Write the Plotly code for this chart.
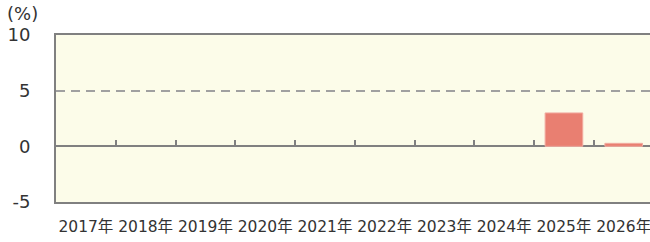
import plotly.graph_objects as go

years = ["2017年", "2018年", "2019年", "2020年", "2021年", "2022年", "2023年", "2024年", "2025年", "2026年"]
values = [None, None, None, None, None, None, None, None, 3.0, 0.27]
y_ticks = [-5, 0, 5, 10]
y_tick_labels = ["-5", "0", "5", "10"]
unit_label = "(%)"

FONT = "Verdana, DejaVu Sans, Noto Sans CJK JP, sans-serif"
GRAY = "#808080"
n = len(years)
xr = [-0.5, n - 0.5 - 0.06]

fig = go.Figure()
fig.add_trace(go.Bar(
    x=years, y=values,
    marker=dict(color="#E97F71", line=dict(color="#F2ABA0", width=1)),
    hoverinfo="skip", showlegend=False,
))
# invisible trace to activate the boundary-tick axis
fig.add_trace(go.Scatter(x=[0], y=[0], xaxis="x2", mode="markers",
                         opacity=0, hoverinfo="skip", showlegend=False))

fig.update_layout(
    width=650, height=242,
    margin=dict(l=56, r=0, t=35, b=40, autoexpand=False),
    paper_bgcolor="white", plot_bgcolor="#FCFCE9",
    font=dict(family=FONT, color="#333333"),
    bargap=0.37,
    xaxis=dict(
        type="category", range=xr, automargin=False,
        showline=True, linecolor=GRAY, linewidth=2, mirror=True,
        showgrid=False, zeroline=False,
        ticks="outside", ticklen=0, ticklabelstandoff=9,
        tickfont=dict(size=15.5, color="#333333"),
    ),
    xaxis2=dict(
        overlaying="x", anchor="free", position=1/3, side="top", automargin=False,
        range=xr, tickmode="array", tickvals=[i + 0.5 for i in range(n - 1)],
        ticks="outside", ticklen=6, tickwidth=2, tickcolor=GRAY,
        showticklabels=False, showline=False, showgrid=False, zeroline=False,
    ),
    yaxis=dict(
        range=[-5, 10], tickmode="array", tickvals=y_ticks, ticktext=y_tick_labels,
        automargin=False,
        showline=True, linecolor=GRAY, linewidth=2,
        showgrid=True, gridcolor="#A0A0A0", gridwidth=2, griddash="9px,6px",
        zeroline=True, zerolinecolor=GRAY, zerolinewidth=2,
        ticks="", ticklabelstandoff=20,
        tickfont=dict(size=18, color="#333333"),
    ),
    annotations=[dict(text=unit_label, xref="paper", yref="paper",
                      x=0, y=1.0, xanchor="left", yanchor="bottom",
                      xshift=-51, yshift=9, showarrow=False,
                      font=dict(size=18, color="#333333", family=FONT))],
)

fig.write_html(
    "out.html",
    config={"displayModeBar": False},
    post_script="document.body.style.margin='0';document.body.style.overflow='hidden';",
)
